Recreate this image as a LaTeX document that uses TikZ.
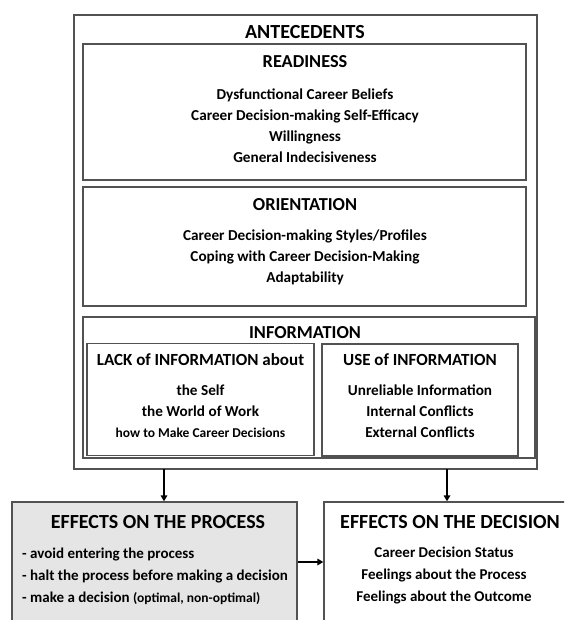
\documentclass[tikz,border=0pt]{standalone}
\usepackage{fontspec}
\setmainfont{Carlito}
\usetikzlibrary{arrows.meta}
\begin{document}
\begin{tikzpicture}[x=1pt,y=-1pt,
  box/.style={draw=black!68,line width=1.3pt,inner sep=0pt,rectangle},
  ttl/.style={font=\bfseries\fontsize{20}{24}\selectfont,inner sep=0pt},
  sub/.style={font=\bfseries\fontsize{18.3}{22}\selectfont,inner sep=0pt},
  itm/.style={font=\bfseries\fontsize{15.2}{21}\selectfont,inner sep=0pt,align=center},
  low/.style={font=\bfseries\fontsize{15}{22}\selectfont,inner sep=0pt},
  arr/.style={line width=1.6pt,-{Triangle[length=6pt,width=6.5pt]}}]
\clip (0,0) rectangle (564,620);
\fill[white] (0,0) rectangle (564,620);
% boxes
\node[box,minimum width=463pt,minimum height=454pt] (outer) at (305.5,242) {};
\node[box,minimum width=443pt,minimum height=136pt] (ready) at (304.5,112) {};
\node[box,minimum width=443pt,minimum height=119pt] (orient) at (304.5,246.5) {};
\node[box,minimum width=452pt,minimum height=141pt] (info) at (309,387.5) {};
\node[box,minimum width=227pt,minimum height=112pt] (lack) at (200.5,399.5) {};
\node[box,minimum width=196pt,minimum height=112pt] (use) at (420,400) {};
\node[box,fill=black!10,minimum width=285pt,minimum height=139pt] (proc) at (154.5,571.5) {};
\node[box,minimum width=260pt,minimum height=139pt] (dec) at (454,571.5) {};
% texts
\node[ttl] (antt) at (305,32) {ANTECEDENTS};
\node[sub] (readt) at (305,62) {READINESS};
\node[itm] (readi) at (305,125.5) {Dysfunctional Career Beliefs\\Career Decision-making Self-Efficacy\\Willingness\\General Indecisiveness};
\node[sub] (orit) at (305,205) {ORIENTATION};
\node[itm] (orii) at (305,257.5) {Career Decision-making Styles/Profiles\\Coping with Career Decision-Making\\Adaptability};
\node[sub] (inft) at (305,333) {INFORMATION};
\node[font=\bfseries\fontsize{17}{20}\selectfont,inner sep=0pt] (lackt) at (200.5,360) {LACK of INFORMATION about};
\node[itm] (lacki) at (200.5,411) {the Self\\the World of Work\\{\fontsize{13.5}{21}\selectfont how to Make Career Decisions}};
\node[font=\bfseries\fontsize{17}{20}\selectfont,inner sep=0pt] (uset) at (420,360) {USE of INFORMATION};
\node[itm] (usei) at (420,411) {Unreliable Information\\Internal Conflicts\\External Conflicts};
\node[font=\bfseries\fontsize{20}{24}\selectfont,inner sep=0pt] (proct) at (158,522) {EFFECTS ON THE PROCESS};
\node[low,align=left,anchor=west] (proci) at (22,576) {- avoid entering the process\\- halt the process before making a decision\\- make a decision {\fontsize{13.5}{22}\selectfont(optimal, non-optimal)}};
\node[font=\bfseries\fontsize{20}{24}\selectfont,inner sep=0pt] (dect) at (450,522) {EFFECTS ON THE DECISION};
\node[low,align=center] (deci) at (444,576) {Career Decision Status\\Feelings about the Process\\Feelings about the Outcome};
% arrows
\coordinate (a1) at (164,469);
\coordinate (a2) at (447,469);
\draw[arr] (a1) -- (a1 |- proc.north);
\draw[arr] (a2) -- (a2 |- dec.north);
\draw[arr] (proc.east |- 0,562) -- (dec.west |- 0,562);
\end{tikzpicture}
\end{document}
